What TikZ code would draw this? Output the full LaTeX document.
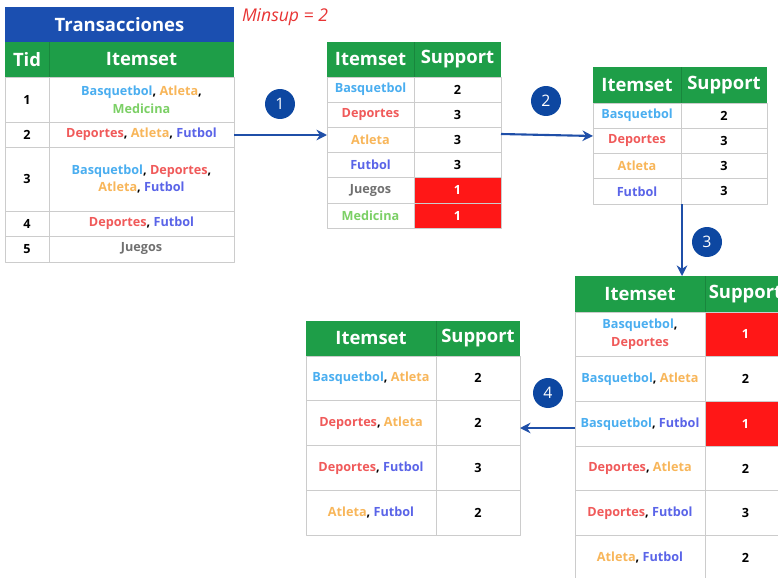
\documentclass[tikz,border=0pt]{standalone}
\usepackage{fontspec}
\setmainfont{Open Sans}
\usepackage{xcolor}
\usetikzlibrary{arrows.meta}

\definecolor{titleblue}{HTML}{1B4FB0}
\definecolor{headgreen}{HTML}{1E9E48}
\definecolor{badred}{HTML}{FF1717}
\definecolor{flowblue}{HTML}{1F4FA8}
\definecolor{stepblue}{HTML}{0D47A1}
\definecolor{minsupred}{HTML}{E83434}
\definecolor{cBas}{HTML}{4AAEF0}
\definecolor{cAtl}{HTML}{F8B65A}
\definecolor{cMed}{HTML}{7CD066}
\definecolor{cDep}{HTML}{F05A5A}
\definecolor{cFut}{HTML}{5A64E8}
\definecolor{cJue}{HTML}{707070}

\newcommand{\Bas}{\textcolor{cBas}{Basquetbol}}
\newcommand{\Atl}{\textcolor{cAtl}{Atleta}}
\newcommand{\Med}{\textcolor{cMed}{Medicina}}
\newcommand{\Dep}{\textcolor{cDep}{Deportes}}
\newcommand{\Fut}{\textcolor{cFut}{Futbol}}
\newcommand{\Jue}{\textcolor{cJue}{Juegos}}

\begin{document}
\begin{tikzpicture}[x=0.02cm, y=-0.02cm, line join=round,
    font=\fontsize{7.2}{10}\selectfont\bfseries,
    grid/.style={draw=gray!40, line width=0.5pt},
    hdiv/.style={draw=headgreen!85!black, line width=0.4pt},
    headtxt/.style={text=white, font=\fontsize{10.5}{12}\selectfont\bfseries},
    txt/.style={align=center, inner sep=1pt},
    badtxt/.style={txt, text=white},
    flow/.style={draw=flowblue, line width=1.2pt, -{Stealth[length=6pt, width=6pt]}},
    stepnum/.style={circle, fill=stepblue, text=white, minimum size=0.6cm, inner sep=0pt,
                    font=\fontsize{9}{10}\selectfont}]
    \clip (0,0) rectangle (778,578);
    \fill[white] (0,0) rectangle (778,578);

    % Minimum support
    \node[text=minsupred, font=\fontsize{10}{12}\selectfont\itshape] (minsup) at (285,17) {Minsup = 2};

    % Table 1: transactions
    \fill[titleblue] (5,7) rectangle (234,42);
    \fill[headgreen] (5,42) rectangle (234,77);
    \draw[hdiv] (49,42) -- (49,77);
    \draw[grid] (5,77) rectangle (234,262);
    \foreach \y in {122,147,211,236} \draw[grid] (5,\y) -- (234,\y);
    \draw[grid] (49,77) -- (49,262);
    \node[headtxt] (trans) at (119.5,24.5) {Transacciones};
    \node[headtxt] (tid) at (27,59.5) {Tid};
    \node[headtxt] (t1h) at (141.5,59.5) {Itemset};
    \foreach \n/\yc/\items in {1/99.5/{\Bas, \Atl,\\ \Med},
                               2/134.5/{\Dep, \Atl, \Fut},
                               3/179/{\Bas, \Dep,\\ \Atl, \Fut},
                               4/223.5/{\Dep, \Fut},
                               5/249/{\Jue}} {
        \node[txt] (t1n-\n) at (27,\yc) {\n};
        \node[txt] (t1i-\n) at (141.5,\yc) {\items};
    }

    % Table 2: 1-itemsets with support
    \fill[headgreen] (327,42) rectangle (501,77);
    \draw[hdiv] (414,42) -- (414,77);
    \fill[badred] (414,177.8) rectangle (501,228.2);
    \draw[grid] (327,77) rectangle (501,228.2);
    \foreach \y in {102.2,127.4,152.6,177.8,203} \draw[grid] (327,\y) -- (501,\y);
    \draw[grid] (414,77) -- (414,228.2);
    \node[headtxt] (t2h) at (370.5,59.5) {Itemset};
    \node[headtxt] (t2s) at (457.5,59.5) {Support};
    \foreach \items/\sup/\st [count=\i] in {\Bas/2/txt, \Dep/3/txt, \Atl/3/txt,
                                           \Fut/3/txt, \Jue/1/badtxt, \Med/1/badtxt} {
        \node[txt] (t2i-\i) at (370.5,{77+25.2*(\i-0.5)}) {\items};
        \node[\st] (t2s-\i) at (457.5,{77+25.2*(\i-0.5)}) {\sup};
    }

    % Table 3: frequent 1-itemsets
    \fill[headgreen] (593,67) rectangle (767,103);
    \draw[hdiv] (681,67) -- (681,103);
    \draw[grid] (593,103) rectangle (767,204);
    \foreach \y in {128.25,153.5,178.75} \draw[grid] (593,\y) -- (767,\y);
    \draw[grid] (681,103) -- (681,204);
    \node[headtxt] (t3h) at (637,85) {Itemset};
    \node[headtxt] (t3s) at (724,85) {Support};
    \foreach \items/\sup [count=\i] in {\Bas/2, \Dep/3, \Atl/3, \Fut/3} {
        \node[txt] (t3i-\i) at (637,{103+25.25*(\i-0.5)}) {\items};
        \node[txt] (t3s-\i) at (724,{103+25.25*(\i-0.5)}) {\sup};
    }

    % Table 4: 2-itemsets with support
    \fill[headgreen] (575,276) rectangle (786,312);
    \draw[hdiv] (705,276) -- (705,312);
    \fill[badred] (705,312) rectangle (786,356.7);
    \fill[badred] (705,401.4) rectangle (786,446.1);
    \draw[grid] (575,312) rectangle (786,580.2);
    \foreach \y in {356.7,401.4,446.1,490.8,535.5} \draw[grid] (575,\y) -- (786,\y);
    \draw[grid] (705,312) -- (705,580.2);
    \node[headtxt] (t4h) at (640,294) {Itemset};
    \node[headtxt] (t4s) at (745.5,294) {Support};
    \foreach \items/\sup/\st [count=\i] in {{\Bas,\\ \Dep}/1/badtxt, {\Bas, \Atl}/2/txt,
                                           {\Bas, \Fut}/1/badtxt, {\Dep, \Atl}/2/txt,
                                           {\Dep, \Fut}/3/txt, {\Atl, \Fut}/2/txt} {
        \node[txt] (t4i-\i) at (640,{312+44.7*(\i-0.5)}) {\items};
        \node[\st] (t4s-\i) at (745.5,{312+44.7*(\i-0.5)}) {\sup};
    }

    % Table 5: frequent 2-itemsets
    \fill[headgreen] (306,321) rectangle (520,356);
    \draw[hdiv] (436,321) -- (436,356);
    \draw[grid] (306,356) rectangle (520,535);
    \foreach \y in {400.75,445.5,490.25} \draw[grid] (306,\y) -- (520,\y);
    \draw[grid] (436,356) -- (436,535);
    \node[headtxt] (t5h) at (371,338.5) {Itemset};
    \node[headtxt] (t5s) at (478,338.5) {Support};
    \foreach \items/\sup [count=\i] in {{\Bas, \Atl}/2, {\Dep, \Atl}/2,
                                       {\Dep, \Fut}/3, {\Atl, \Fut}/2} {
        \node[txt] (t5i-\i) at (371,{356+44.75*(\i-0.5)}) {\items};
        \node[txt] (t5s-\i) at (478,{356+44.75*(\i-0.5)}) {\sup};
    }

    % Connector ends on the table edges
    \coordinate (t1out) at (234,135);
    \coordinate (t2in)  at (327,135);
    \coordinate (t2out) at (501,134);
    \coordinate (t3in)  at (593,136);
    \coordinate (t3out) at (682,204);
    \coordinate (t4in)  at (682,276);
    \coordinate (t4out) at (575,428);
    \coordinate (t5in)  at (520,428);

    % Steps
    \draw[flow] (t1out) -- (t2in);
    \draw[flow] (t2out) -- (t3in);
    \draw[flow] (t3out) -- (t4in);
    \draw[flow] (t4out) -- (t5in);
    \node[stepnum] (s1) at (280,104) {1};
    \node[stepnum] (s2) at (546,101) {2};
    \node[stepnum] (s3) at (707,242) {3};
    \node[stepnum] (s4) at (548,393) {4};
\end{tikzpicture}
\end{document}
